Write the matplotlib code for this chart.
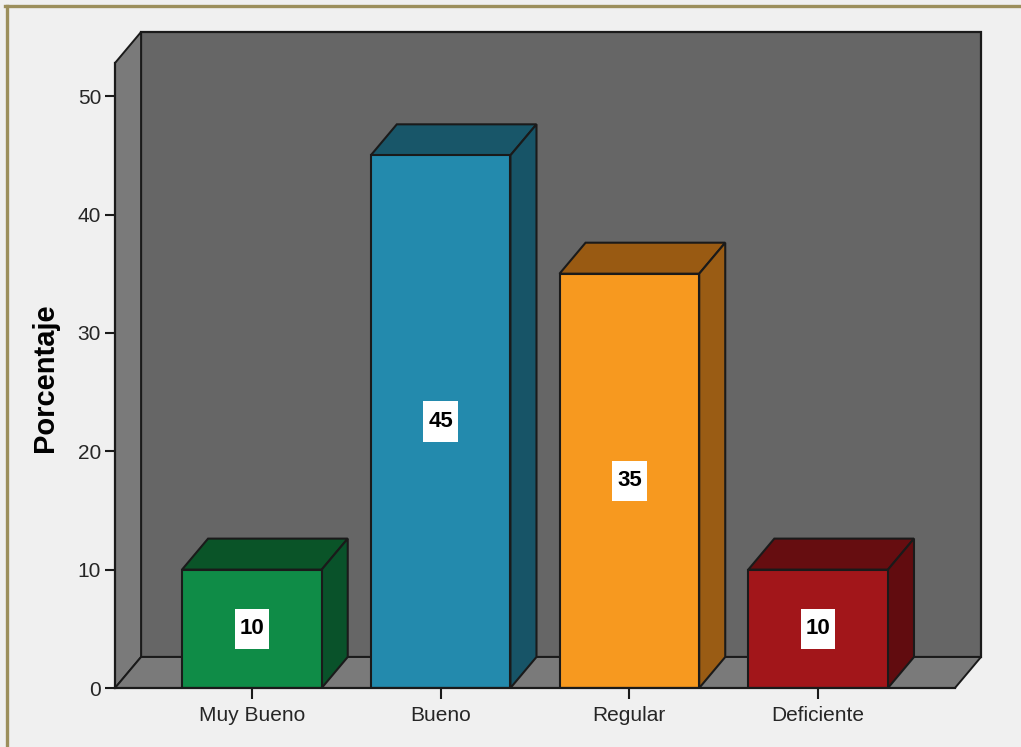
import matplotlib
matplotlib.use("Agg")
import matplotlib.pyplot as plt
from matplotlib.patches import Polygon
from matplotlib.lines import Line2D
from matplotlib.path import Path

plt.rcParams['font.family'] = ['Liberation Sans', 'DejaVu Sans']

# Data
categories = ["Muy Bueno", "Bueno", "Regular", "Deficiente"]
values = [10, 45, 35, 10]
yticks = [0, 10, 20, 30, 40, 50]

front_colors = ["#0F8C47", "#238AAD", "#F7991F", "#A2161A"]
top_colors = ["#0A5428", "#185669", "#995A12", "#660D10"]
side_colors = ["#09522A", "#175467", "#9A5C14", "#610C0F"]

# Frame geometry (data units)
x0, x1 = -0.725, 3.725
ymax = 52.8
dx, dy = 0.138, 2.62
bar_w = 0.74
edge = "#1a1a1a"


def label_box(x, y, w, h, mutation_size, px=0.22, py=0.44):
    """Rectangular box with separate horizontal and vertical padding."""
    ax_, ay_ = px * mutation_size, py * mutation_size
    l, b, r, t = x - ax_, y - ay_, x + w + ax_, y + h + ay_
    return Path([(l, b), (r, b), (r, t), (l, t), (l, b)], closed=True)


fig = plt.figure(figsize=(10.21, 7.47), dpi=100, facecolor="#F0F0F0")
W, H = 1021, 747
left_px, right_px = 115, 955 + 26
bottom_px, top_px = 688, 32
ax = fig.add_axes([left_px / W, 1 - bottom_px / H,
                   (right_px - left_px) / W, (bottom_px - top_px) / H])
ax.set_xlim(x0, x1 + dx)
ax.set_ylim(0, ymax + dy)
ax.set_facecolor("none")

# Back wall, side wall and floor
back = Polygon([(x0 + dx, dy), (x1 + dx, dy), (x1 + dx, ymax + dy), (x0 + dx, ymax + dy)],
               closed=True, facecolor="#666666", edgecolor=edge, lw=1.6, zorder=1)
side = Polygon([(x0, 0), (x0 + dx, dy), (x0 + dx, ymax + dy), (x0, ymax)],
               closed=True, facecolor="#7A7A7A", edgecolor=edge, lw=1.4, zorder=1)
floor = Polygon([(x0, 0), (x1, 0), (x1 + dx, dy), (x0 + dx, dy)],
                closed=True, facecolor="#7A7A7A", edgecolor=edge, lw=1.4, zorder=1)
for p in (back, side, floor):
    p.set_clip_on(False)
    ax.add_patch(p)

# Bars: front face via bar(), plus top and side faces
xs = list(range(len(categories)))
ax.bar(xs, values, width=bar_w, color=front_colors, edgecolor=edge, lw=1.5, zorder=3)
for x, v, tc, sc in zip(xs, values, top_colors, side_colors):
    l, r = x - bar_w / 2, x + bar_w / 2
    top = Polygon([(l, v), (r, v), (r + dx, v + dy), (l + dx, v + dy)],
                  closed=True, facecolor=tc, edgecolor=edge, lw=1.5, zorder=2)
    sd = Polygon([(r, 0), (r + dx, dy), (r + dx, v + dy), (r, v)],
                 closed=True, facecolor=sc, edgecolor=edge, lw=1.5, zorder=2)
    ax.add_patch(top)
    ax.add_patch(sd)
    ax.text(x, v / 2, f"{v}", ha="center", va="center", fontsize=16,
            fontweight="bold", color="black", zorder=5,
            bbox=dict(boxstyle=label_box, facecolor="white", edgecolor="none"))

# Axes styling
for s in ("top", "right"):
    ax.spines[s].set_visible(False)
ax.spines["left"].set_bounds(0, ymax)
ax.spines["bottom"].set_bounds(x0, x1)
for s in ("left", "bottom"):
    ax.spines[s].set_linewidth(1.6)
    ax.spines[s].set_color(edge)
    ax.spines[s].set_zorder(4)

ax.set_yticks(yticks)
ax.set_yticklabels([str(t) for t in yticks])
ax.set_xticks(xs)
ax.set_xticklabels(categories)
ax.tick_params(axis="y", length=7, width=1.5, color=edge, labelsize=15,
               labelcolor="#262626", pad=3)
ax.tick_params(axis="x", length=8, width=1.5, color=edge, labelsize=15,
               labelcolor="#262626", pad=5)

fig.text(45 / W, 1 - 378 / H, "Porcentaje", rotation=90, ha="center", va="center",
         fontsize=21, fontweight="bold", color="black")

# Outer frame (top and left edges)
frame_col = "#9C8F5C"
fig.add_artist(Line2D([5 / W, 1], [1 - 5.5 / H, 1 - 5.5 / H], transform=fig.transFigure,
                      color=frame_col, lw=2.4))
fig.add_artist(Line2D([6.5 / W, 6.5 / W], [0, 1 - 5.5 / H], transform=fig.transFigure,
                      color=frame_col, lw=2.4))

fig.savefig("out.png", dpi=100, facecolor=fig.get_facecolor())
